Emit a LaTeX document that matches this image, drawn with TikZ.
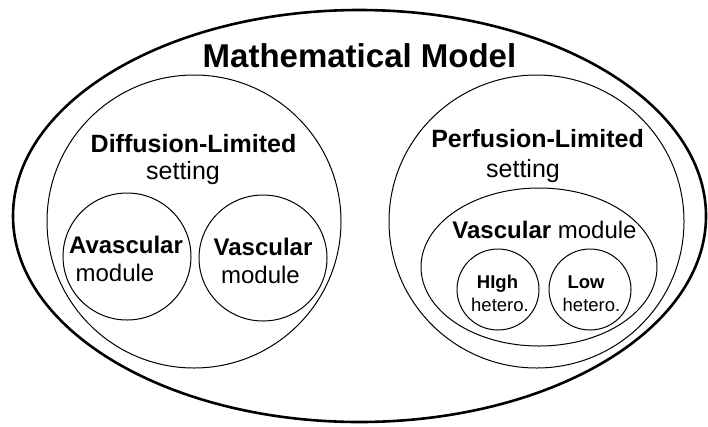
\documentclass[tikz,border=0pt]{standalone}
\usepackage{fontspec}
\setmainfont{Liberation Sans}
\usetikzlibrary{shapes.geometric}
\tikzset{
  ring/.style={ellipse, draw, line width=1pt, inner sep=0pt},
  outerring/.style={ellipse, draw, line width=2.6pt, inner sep=0pt},
  lbl/.style={anchor=base, inner sep=0pt},
  fT/.style={font=\fontsize{33}{36}\selectfont\bfseries},
  fS/.style={font=\fontsize{25}{28}\selectfont},
  fM/.style={font=\fontsize{24}{27}\selectfont},
  fH/.style={font=\fontsize{18.5}{21}\selectfont},
}
\begin{document}
\begin{tikzpicture}[x=1pt,y=-1pt]
\useasboundingbox (0,0) rectangle (708,426);
% containers
\node[outerring, minimum width=693pt, minimum height=412pt] (model) at (359.5,216) {};
\node[ring, minimum width=294pt, minimum height=293pt] (diff) at (194,221.5) {};
\node[ring, minimum width=295pt, minimum height=293pt] (perf) at (536.5,221.5) {};
\node[ring, minimum width=128pt, minimum height=127pt] (avasc) at (127,256.5) {};
\node[ring, minimum width=128pt, minimum height=126pt] (vascL) at (263,258) {};
\node[ring, minimum width=236pt, minimum height=158pt] (vascR) at (539,267) {};
\node[ring, minimum width=82pt, minimum height=81pt] (high) at (498,289.5) {};
\node[ring, minimum width=82pt, minimum height=81pt] (low) at (590,289.5) {};
% labels
\node[lbl, fT] (title) at (359.5,67) {Mathematical Model};
\node[lbl, fS] (diffT) at (193.5,152) {\bfseries Diffusion-Limited};
\node[lbl, fS] (diffS) at (183,179) {setting};
\node[lbl, fS] (perfT) at (537.5,147) {\bfseries Perfusion-Limited};
\node[lbl, fS] (perfS) at (523,177) {setting};
\node[lbl, fM] (avascT) at (126,253) {\bfseries Avascular};
\node[lbl, fM] (avascS) at (115,281) {module};
\node[lbl, fM] (vascLT) at (263,255) {\bfseries Vascular};
\node[lbl, fM] (vascLS) at (260.5,283) {module};
\node[lbl, fM] (vascRT) at (544.5,238) {\textbf{Vascular} module};
\node[lbl, fH] (highT) at (497.5,288) {\bfseries HIgh};
\node[lbl, fH] (highS) at (500,311) {hetero.};
\node[lbl, fH] (lowT) at (586,288) {\bfseries Low};
\node[lbl, fH] (lowS) at (591.5,311) {hetero.};
\end{tikzpicture}
\end{document}
